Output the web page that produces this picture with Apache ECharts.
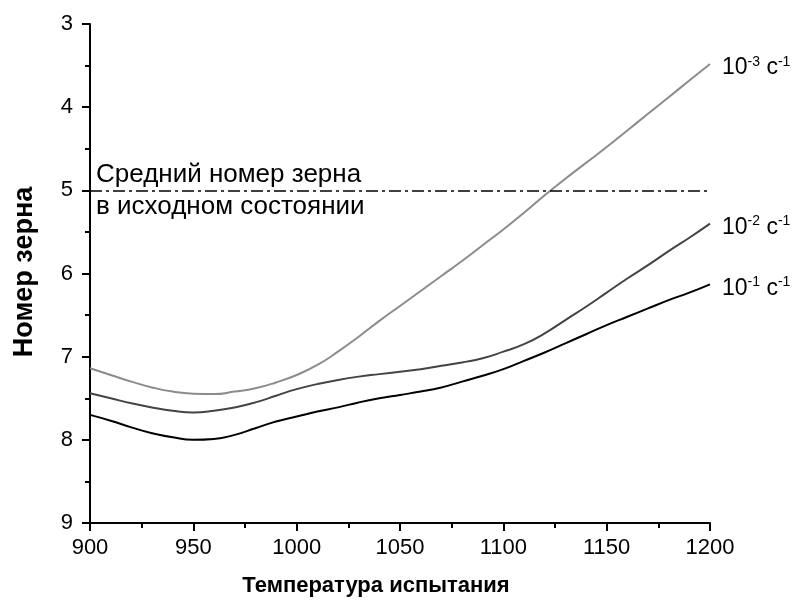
<!DOCTYPE html>
<html>
<head>
<meta charset="utf-8">
<script src="https://cdn.jsdelivr.net/npm/echarts@6/dist/echarts.min.js"></script>
<style>
  html, body { margin: 0; padding: 0; background: #fff; }
  #chart { width: 801px; height: 600px; }
</style>
</head>
<body>
<div id="chart"></div>
<script>
// Temperature of the test, °C
const temperatures = [900, 910, 920, 930, 940, 950, 960, 970, 980, 990, 1000, 1010, 1020, 1030, 1040, 1050,
  1060, 1070, 1080, 1090, 1100, 1110, 1120, 1130, 1140, 1150, 1160, 1170, 1180, 1190, 1200];
// Grain number at each strain rate
const grain_1e3 = [7.14, 7.22, 7.30, 7.37, 7.42, 7.445, 7.45, 7.42, 7.38, 7.31, 7.22, 7.10, 6.94, 6.76, 6.57, 6.39,
  6.21, 6.03, 5.85, 5.66, 5.47, 5.27, 5.06, 4.86, 4.67, 4.48, 4.28, 4.08, 3.88, 3.68, 3.48];
const grain_1e2 = [7.44, 7.50, 7.56, 7.61, 7.65, 7.67, 7.65, 7.61, 7.55, 7.47, 7.39, 7.33, 7.28, 7.24, 7.21, 7.18,
  7.15, 7.11, 7.07, 7.02, 6.94, 6.85, 6.72, 6.56, 6.40, 6.23, 6.06, 5.90, 5.73, 5.57, 5.40];
const grain_1e1 = [7.70, 7.77, 7.85, 7.92, 7.97, 8.00, 7.99, 7.94, 7.86, 7.78, 7.72, 7.66, 7.61, 7.55, 7.50, 7.46,
  7.42, 7.37, 7.30, 7.23, 7.15, 7.05, 6.95, 6.84, 6.73, 6.62, 6.52, 6.42, 6.32, 6.23, 6.13];
// Strain-rate exponents used in the end labels
const rateExponents = ['-3', '-2', '-1'];
// Average grain number of the initial state
const initialGrain = 5;

const xTicks = { min: 900, max: 1200, step: 50 };
const yTicks = { min: 3, max: 9, step: 1 };

const FONT = '"Liberation Sans", Arial, sans-serif';

function pairs(xs, ys) { return xs.map((x, i) => [x, ys[i]]); }

function rateSeries(values, exp, color, extra) {
  return Object.assign({
    type: 'line',
    data: pairs(temperatures, values),
    smooth: 0.5,
    showSymbol: false,
    symbol: 'none',
    lineStyle: { color: color, width: 2 },
    endLabel: {
      show: true,
      distance: 12,
      offset: [0, 4],
      formatter: '{n|10}{s|' + exp + '}{n| c}{s|-1}',
      rich: {
        n: { fontFamily: FONT, fontSize: 23, color: '#000', lineHeight: 26 },
        s: { fontFamily: FONT, fontSize: 14, color: '#000', verticalAlign: 'top', lineHeight: 14 }
      }
    },
    animation: false,
    z: 3
  }, extra || {});
}

const chart = echarts.init(document.getElementById('chart'), null, { renderer: 'canvas' });

chart.setOption({
  backgroundColor: '#fff',
  animation: false,
  grid: { left: 90, right: 91, top: 24, bottom: 77, containLabel: false },
  xAxis: {
    type: 'value',
    min: xTicks.min, max: xTicks.max, interval: xTicks.step,
    axisLine: { onZero: false, lineStyle: { color: '#000', width: 2 } },
    axisTick: { length: 8, lineStyle: { color: '#000', width: 2 } },
    minorTick: { show: true, splitNumber: 2, length: 5, lineStyle: { color: '#000', width: 2 } },
    splitLine: { show: false },
    axisLabel: {
      fontFamily: FONT, fontSize: 22, color: '#000', margin: 14,
      formatter: v => String(v)
    }
  },
  yAxis: {
    type: 'value',
    inverse: true,
    min: yTicks.min, max: yTicks.max, interval: yTicks.step,
    axisLine: { show: true, onZero: false, lineStyle: { color: '#000', width: 2 } },
    axisTick: { show: true, length: 8, lineStyle: { color: '#000', width: 2 } },
    minorTick: { show: true, splitNumber: 2, length: 5, lineStyle: { color: '#000', width: 2 } },
    splitLine: { show: false },
    axisLabel: { fontFamily: FONT, fontSize: 22, color: '#000', margin: 17, formatter: v => String(v) }
  },
  series: [
    rateSeries(grain_1e3, rateExponents[0], '#8c8c8c', {
      markLine: {
        silent: true,
        symbol: 'none',
        label: { show: false },
        lineStyle: { color: '#000', width: 1.6, type: [12, 4, 3, 4] },
        data: [{ yAxis: initialGrain }]
      }
    }),
    rateSeries(grain_1e2, rateExponents[1], '#444444'),
    rateSeries(grain_1e1, rateExponents[2], '#000000')
  ],
  graphic: [
    {
      type: 'text', left: 96, top: 159,
      style: {
        text: 'Средний номер зерна\nв исходном состоянии',
        font: '26px ' + FONT, fill: '#000', lineHeight: 32
      }
    },
    {
      type: 'text', x: 376, y: 586,
      style: {
        text: 'Температура испытания',
        font: 'bold 22px ' + FONT, fill: '#000',
        align: 'center', verticalAlign: 'middle'
      }
    },
    {
      type: 'text', x: 25, y: 272, rotation: Math.PI / 2,
      style: {
        text: 'Номер зерна',
        font: 'bold 27px ' + FONT, fill: '#000',
        align: 'center', verticalAlign: 'middle'
      }
    }
  ]
});
</script>
</body>
</html>
